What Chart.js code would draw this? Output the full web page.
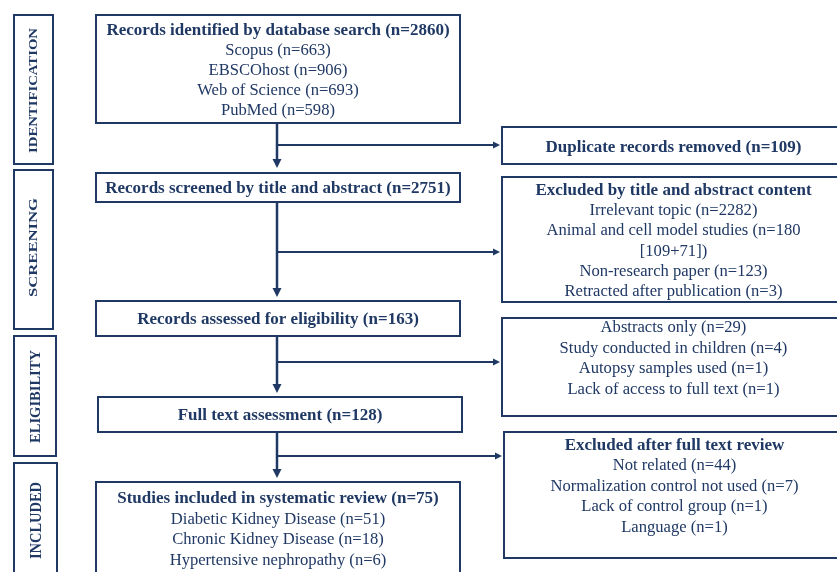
<!DOCTYPE html>
<html>
<head>
<meta charset="utf-8">
<script src="https://cdn.jsdelivr.net/npm/chart.js@4/dist/chart.umd.min.js"></script>
<style>
  html, body { margin: 0; padding: 0; background: #ffffff; }
  #wrap { width: 837px; height: 572px; position: relative; }
</style>
</head>
<body>
<div id="wrap"><canvas id="c" width="837" height="572"></canvas></div>
<script>
// ---------------- DATA ----------------
const stageLabels = ['IDENTIFICATION', 'SCREENING', 'ELIGIBILITY', 'INCLUDED'];

const identifiedTotal = 2860;
const sourceNames = ['Scopus', 'EBSCOhost', 'Web of Science', 'PubMed'];
const sourceCounts = [663, 906, 693, 598];

const duplicatesRemoved = 109;
const screenedCount = 2751;

const titleExclNames = ['Irrelevant topic', 'Animal and cell model studies', 'Non-research paper', 'Retracted after publication'];
const titleExclCounts = [2282, 180, 123, 3];
const animalBreakdown = '[109+71]';

const assessedCount = 163;
const eligExclNames = ['Abstracts only', 'Study conducted in children', 'Autopsy samples used', 'Lack of access to full text'];
const eligExclCounts = [29, 4, 1, 1];

const fullTextCount = 128;
const fullExclNames = ['Not related', 'Normalization control not used', 'Lack of control group', 'Language'];
const fullExclCounts = [44, 7, 1, 1];

const includedCount = 75;
const includedNames = ['Diabetic Kidney Disease', 'Chronic Kidney Disease', 'Hypertensive nephropathy'];
const includedCounts = [51, 18, 6];

// ---------------- TEXT BUILT FROM DATA ----------------
const n = v => '(n=' + v + ')';
const boxTexts = [
  [{t: 'Records identified by database search ' + n(identifiedTotal), b: true}]
    .concat(sourceNames.map((s, i) => ({t: s + ' ' + n(sourceCounts[i])}))),
  [{t: 'Duplicate records removed ' + n(duplicatesRemoved), b: true}],
  [{t: 'Records screened by title and abstract ' + n(screenedCount), b: true}],
  [{t: 'Excluded by title and abstract content', b: true},
   {t: titleExclNames[0] + ' ' + n(titleExclCounts[0])},
   {t: titleExclNames[1] + ' (n=' + titleExclCounts[1]},
   {t: animalBreakdown + ')'},
   {t: titleExclNames[2] + ' ' + n(titleExclCounts[2])},
   {t: titleExclNames[3] + ' ' + n(titleExclCounts[3])}],
  [{t: 'Records assessed for eligibility ' + n(assessedCount), b: true}],
  eligExclNames.map((s, i) => ({t: s + ' ' + n(eligExclCounts[i])})),
  [{t: 'Full text assessment ' + n(fullTextCount), b: true}],
  [{t: 'Excluded after full text review', b: true}]
    .concat(fullExclNames.map((s, i) => ({t: s + ' ' + n(fullExclCounts[i])}))),
  [{t: 'Studies included in systematic review ' + n(includedCount), b: true}]
    .concat(includedNames.map((s, i) => ({t: s + ' ' + n(includedCounts[i])})))
];

// ---------------- LAYOUT (scale units) ----------------
const boxGeom = [
  {x0: 96,  x1: 460, y0: 15,  y1: 123, base: 35,  step: 20},
  {x0: 502, x1: 848, y0: 127, y1: 164, base: 152, step: 20},
  {x0: 96,  x1: 460, y0: 173, y1: 202, base: 193, step: 20},
  {x0: 502, x1: 848, y0: 177, y1: 302, base: 195, step: 20.2},
  {x0: 96,  x1: 460, y0: 301, y1: 336, base: 324, step: 20},
  {x0: 502, x1: 848, y0: 318, y1: 416, base: 332, step: 20.5},
  {x0: 98,  x1: 462, y0: 397, y1: 432, base: 420, step: 20},
  {x0: 504, x1: 848, y0: 432, y1: 558, base: 450, step: 20.4},
  {x0: 96,  x1: 460, y0: 482, y1: 585, base: 503, step: 20.5}
];
const stageGeom = [
  {x0: 14, x1: 53, y0: 15,  y1: 164, cy: 90.5, fs: 12, len: 125},
  {x0: 14, x1: 53, y0: 170, y1: 329, cy: 247.5, fs: 12, len: 99},
  {x0: 14, x1: 56, y0: 336, y1: 456, cy: 396.5, fs: 15.5, len: 93},
  {x0: 14, x1: 57, y0: 463, y1: 585, cy: 520.5, fs: 17, len: 77}
];
const spineX = 277;
const spineSegs = [[123, 168], [202, 297], [336, 393], [432, 478]];
const branches = [[145, 500], [252, 500], [362, 500], [456, 502]];

const NAVY = '#1f3864';
const FONT = '"Liberation Serif", "Times New Roman", serif';

const flowPlugin = {
  id: 'flow',
  afterDraw(chart) {
    const ctx = chart.ctx;
    const X = v => chart.scales.x.getPixelForValue(v);
    const Y = v => chart.scales.y.getPixelForValue(v);
    ctx.save();
    ctx.strokeStyle = NAVY;
    ctx.fillStyle = NAVY;

    // stage side boxes
    ctx.lineWidth = 2;
    stageGeom.forEach((g, i) => {
      ctx.strokeRect(X(g.x0), Y(g.y0), X(g.x1) - X(g.x0), Y(g.y1) - Y(g.y0));
      ctx.save();
      ctx.font = 'bold ' + g.fs + 'px ' + FONT;
      const w = ctx.measureText(stageLabels[i]).width;
      const cap = g.fs * 0.66;
      const cx = (X(g.x0) + X(g.x1)) / 2;
      ctx.translate(cx + cap / 2, Y(g.cy));
      ctx.rotate(-Math.PI / 2);
      ctx.scale(g.len / w, 1);
      ctx.textAlign = 'center';
      ctx.textBaseline = 'alphabetic';
      ctx.fillText(stageLabels[i], 0, 0);
      ctx.restore();
    });

    // boxes + text
    boxGeom.forEach((g, i) => {
      ctx.lineWidth = 2;
      ctx.strokeRect(X(g.x0), Y(g.y0), X(g.x1) - X(g.x0), Y(g.y1) - Y(g.y0));
      const lines = boxTexts[i];
      const cx = i % 2 === 1 ? (X(g.x0) + X(845)) / 2 : (X(g.x0) + X(g.x1)) / 2;
      ctx.textAlign = 'center';
      ctx.textBaseline = 'alphabetic';
      lines.forEach((ln, k) => {
        ctx.font = (ln.b ? 'bold 17px ' : '16.6px ') + FONT;
        ctx.fillText(ln.t, cx, Y(g.base + k * g.step));
      });
    });

    // main spine with arrowheads
    ctx.lineWidth = 2.5;
    spineSegs.forEach(s => {
      ctx.beginPath();
      ctx.moveTo(X(spineX), Y(s[0]));
      ctx.lineTo(X(spineX), Y(s[1]) - 6);
      ctx.stroke();
      ctx.beginPath();
      ctx.moveTo(X(spineX) - 4.5, Y(s[1]) - 9);
      ctx.lineTo(X(spineX) + 4.5, Y(s[1]) - 9);
      ctx.lineTo(X(spineX), Y(s[1]));
      ctx.closePath();
      ctx.fill();
    });

    // side branches
    ctx.lineWidth = 1.8;
    branches.forEach(b => {
      ctx.beginPath();
      ctx.moveTo(X(spineX), Y(b[0]));
      ctx.lineTo(X(b[1]) - 4, Y(b[0]));
      ctx.stroke();
      ctx.beginPath();
      ctx.moveTo(X(b[1]) - 7, Y(b[0]) - 3.5);
      ctx.lineTo(X(b[1]) - 7, Y(b[0]) + 3.5);
      ctx.lineTo(X(b[1]), Y(b[0]));
      ctx.closePath();
      ctx.fill();
    });
    ctx.restore();
  }
};

new Chart(document.getElementById('c'), {
  type: 'scatter',
  data: { datasets: [{ data: [], pointRadius: 0 }] },
  options: {
    responsive: false,
    animation: false,
    devicePixelRatio: 1,
    layout: { padding: 0 },
    plugins: { legend: { display: false }, tooltip: { enabled: false } },
    scales: {
      x: { type: 'linear', min: 0, max: 837, display: false },
      y: { type: 'linear', min: 0, max: 572, reverse: true, display: false }
    }
  },
  plugins: [flowPlugin]
});
</script>
</body>
</html>
